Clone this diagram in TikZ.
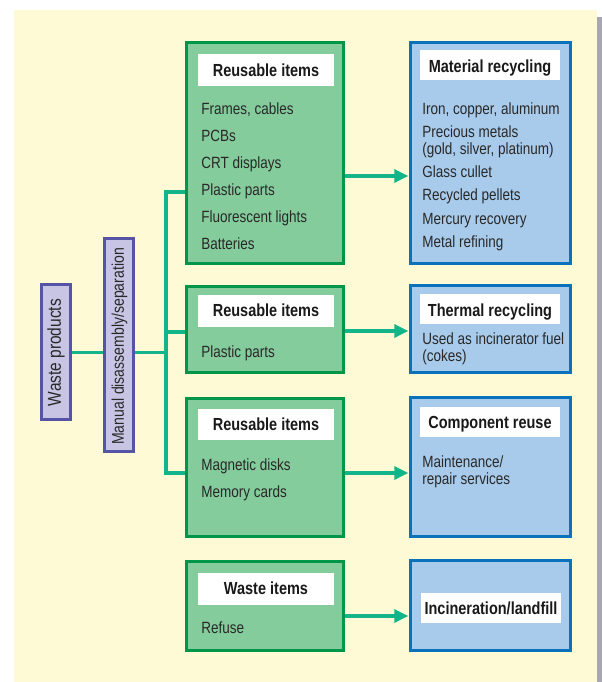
\documentclass[tikz,border=0pt]{standalone}
\usepackage{fontspec}
\setmainfont{Liberation Sans}[FakeStretch=0.83]
\usetikzlibrary{fit,arrows.meta}
\definecolor{cream}{RGB}{254,250,214}
\definecolor{gfill}{RGB}{132,204,156}
\definecolor{gline}{RGB}{0,150,74}
\definecolor{bfill}{RGB}{169,203,235}
\definecolor{bline}{RGB}{10,114,186}
\definecolor{pfill}{RGB}{200,196,228}
\definecolor{pline}{RGB}{86,84,164}
\definecolor{teal}{RGB}{18,180,138}
\definecolor{shadowc}{RGB}{167,167,174}
\definecolor{txt}{RGB}{40,40,40}
\newcommand{\bodyfont}{\fontsize{12.2pt}{14pt}\selectfont}
\newcommand{\titlefont}{\fontsize{13.1pt}{15pt}\selectfont\bfseries}
\tikzset{
  gbox/.style={draw=gline, fill=gfill, line width=2.6pt, inner sep=-1.3pt},
  bbox/.style={draw=bline, fill=bfill, line width=2.6pt, inner sep=-1.3pt},
  pbox/.style={draw=pline, fill=pfill, line width=2.25pt, inner sep=-1.1pt},
  tbox/.style={fill=white, inner sep=0pt},
  ttext/.style={font=\titlefont, text=black!90, inner sep=0pt, anchor=base},
  item/.style={font=\bodyfont, text=txt, inner sep=0pt, anchor=base west},
  conn/.style={draw=teal, line width=2.3pt},
  arr/.style={draw=teal, line width=2.3pt, -{Triangle[length=10.5pt,width=9.75pt]}, shorten >=0.5pt}
}
\begin{document}
\begin{tikzpicture}[x=0.75pt,y=-0.75pt]
\useasboundingbox (0,0) rectangle (602,682);
\fill[cream] (14,10) rectangle (597,682);
\fill[shadowc] (597,17) rectangle (602,682);

% left vertical boxes
\node[pbox, fit={(40,283)(72,421)}] (WP) {};
\node[rotate=90, font=\fontsize{14pt}{16pt}\selectfont, text=txt, inner sep=0pt] at (56,352.5) {Waste products};
\node[pbox, fit={(103,237)(135,453)}] (MD) {};
\node[rotate=90, font=\fontsize{12.7pt}{15pt}\selectfont, text=txt, inner sep=0pt] at (119.5,346.5) {Manual disassembly/separation};

% green boxes
\node[gbox, fit={(185,41)(345,265)}] (G1) {};
\node[gbox, fit={(185,285)(345,374)}] (G2) {};
\node[gbox, fit={(185,397)(345,538)}] (G3) {};
\node[gbox, fit={(185,560)(345,652)}] (G4) {};
% blue boxes
\node[bbox, fit={(409,41)(572,265)}] (B1) {};
\node[bbox, fit={(409,284)(572,374)}] (B2) {};
\node[bbox, fit={(409,396)(572,538)}] (B3) {};
\node[bbox, fit={(409,559)(572,652)}] (B4) {};

% white title rectangles
\node[tbox, fit={(198,54)(334,86)}] (G1t) {};
\node[tbox, fit={(198,295)(334,327)}] (G2t) {};
\node[tbox, fit={(198,409)(334,440)}] (G3t) {};
\node[tbox, fit={(198,573)(334,605)}] (G4t) {};
\node[tbox, fit={(420,50)(560,80)}] (B1t) {};
\node[tbox, fit={(420,294)(560,324)}] (B2t) {};
\node[tbox, fit={(420,407)(560,437)}] (B3t) {};
\node[tbox, fit={(421,593)(561,623)}] (B4t) {};

% titles
\node[ttext] at (266,76) {Reusable items};
\node[ttext] at (266,316) {Reusable items};
\node[ttext] at (266,430) {Reusable items};
\node[ttext] at (266,594) {Waste items};
\node[ttext] at (490,72) {Material recycling};
\node[ttext] at (490,316) {Thermal recycling};
\node[ttext] at (490,428) {Component reuse};
\node[ttext] at (491,614) {Incineration/landfill};

% green items
\node[item] at (201,114) {Frames, cables};
\node[item] at (201,141) {PCBs};
\node[item] at (201,168) {CRT displays};
\node[item] at (201,195) {Plastic parts};
\node[item] at (201,222) {Fluorescent lights};
\node[item] at (201,249) {Batteries};
\node[item] at (201,357) {Plastic parts};
\node[item] at (201,470) {Magnetic disks};
\node[item] at (201,497) {Memory cards};
\node[item] at (201,633) {Refuse};
% blue items
\node[item] at (422,114) {Iron, copper, aluminum};
\node[item, align=left, font=\fontsize{12.2pt}{12.2pt}\selectfont] at (422,154) {Precious metals\\(gold, silver, platinum)};
\node[item] at (422,177) {Glass cullet};
\node[item] at (422,200) {Recycled pellets};
\node[item] at (422,224) {Mercury recovery};
\node[item] at (422,247) {Metal refining};
\node[item, align=left, font=\fontsize{12.2pt}{12.2pt}\selectfont] at (422,361) {Used as incinerator fuel\\(cokes)};
\node[item, align=left, font=\fontsize{12.2pt}{12.2pt}\selectfont] at (422,484) {Maintenance/\\repair services};

% connectors
\coordinate (j0) at (166,352.5);
\coordinate (j1) at (166,192);
\coordinate (j2) at (166,332);
\coordinate (j3) at (166,473);
\draw[conn] (WP.east |- j0) -- (MD.west |- j0);
\draw[conn] (MD.east |- j0) -- (j0);
\draw[conn] (G1.west |- j1) -- (j1) -- (j3) -- (G3.west |- j3);
\draw[conn] (j2) -- (G2.west |- j2);

\coordinate (a1) at (0,176);
\coordinate (a2) at (0,331);
\coordinate (a3) at (0,473);
\coordinate (a4) at (0,616);
\draw[arr] (G1.east |- a1) -- (B1.west |- a1);
\draw[arr] (G2.east |- a2) -- (B2.west |- a2);
\draw[arr] (G3.east |- a3) -- (B3.west |- a3);
\draw[arr] (G4.east |- a4) -- (B4.west |- a4);
\end{tikzpicture}
\end{document}
